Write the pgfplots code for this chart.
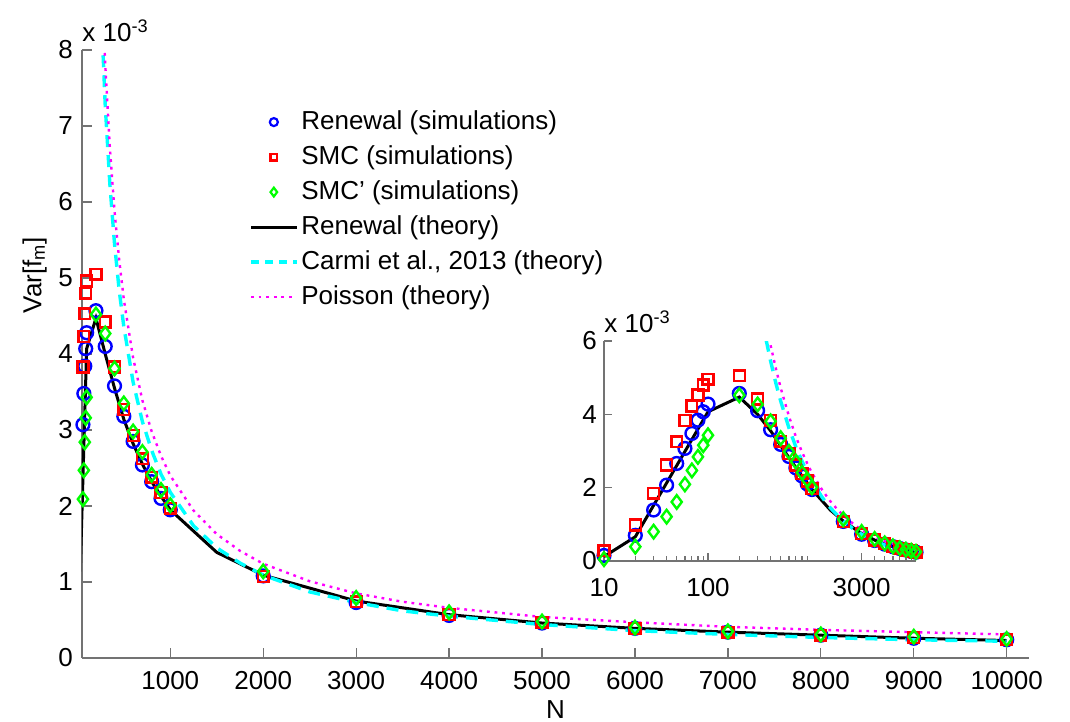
\documentclass[border=0pt]{standalone}
\usepackage{fontspec}
\setmainfont{Liberation Sans}
\usepackage{pgfplots}
\usepackage{pgfplotstable}
\pgfplotsset{compat=1.18}
\definecolor{mblue}{rgb}{0,0,1}
\definecolor{mred}{rgb}{1,0,0}
\definecolor{mgreen}{rgb}{0,1,0}
\definecolor{mcyan}{rgb}{0,1,1}
\definecolor{mmag}{rgb}{1,0,1}
\definecolor{axgray}{rgb}{0.45,0.45,0.45}

% Var[f_m] in units of 1e-3
\pgfplotstableread{
N V
10 0.15
20 0.70
30 1.39
40 2.07
50 2.66
60 3.07
70 3.48
80 3.84
90 4.07
100 4.28
200 4.57
300 4.10
400 3.58
500 3.18
600 2.85
700 2.54
800 2.32
900 2.10
1000 1.95
2000 1.08
3000 0.73
4000 0.56
5000 0.46
6000 0.39
7000 0.34
8000 0.30
9000 0.26
10000 0.24
}\renewsim
\pgfplotstableread{
N V
10 0.28
20 0.98
30 1.85
40 2.62
50 3.25
60 3.83
70 4.23
80 4.53
90 4.80
100 4.96
200 5.05
300 4.42
400 3.83
500 3.27
600 2.93
700 2.62
800 2.38
900 2.18
1000 1.97
2000 1.07
3000 0.74
4000 0.57
5000 0.47
6000 0.39
7000 0.34
8000 0.30
9000 0.27
10000 0.24
}\smcsim
\pgfplotstableread{
N V
10 0.05
20 0.39
30 0.80
40 1.21
50 1.61
60 2.09
70 2.47
80 2.84
90 3.16
100 3.43
200 4.52
300 4.27
400 3.81
500 3.35
600 2.98
700 2.71
800 2.41
900 2.21
1000 2.01
2000 1.14
3000 0.79
4000 0.60
5000 0.48
6000 0.40
7000 0.35
8000 0.31
9000 0.28
10000 0.25
}\smcpsim
\pgfplotstableread{
N V
10 0.12
20 0.66
100 4.07
200 4.47
300 4.00
400 3.55
500 3.14
600 2.82
700 2.55
800 2.32
900 2.13
1000 1.95
1500 1.39
2000 1.09
3000 0.75
4000 0.57
5000 0.46
6000 0.39
7000 0.34
8000 0.30
9000 0.26
10000 0.23
}\renewth
\pgfplotstableread{
N V
250 8.72
300 7.27
350 6.23
400 5.45
450 4.84
500 4.36
600 3.63
700 3.11
800 2.73
900 2.42
1000 2.18
1250 1.74
1500 1.45
1750 1.25
2000 1.09
2500 0.87
3000 0.73
3500 0.62
4000 0.55
5000 0.44
6000 0.36
7000 0.31
8000 0.27
9000 0.24
10000 0.22
}\carmi
\pgfplotstableread{
N V
250 9.36
280 8.37
300 7.81
350 6.71
400 5.88
450 5.24
500 4.72
600 3.95
700 3.39
800 2.98
900 2.66
1000 2.40
1250 1.94
1500 1.63
1750 1.41
2000 1.24
2500 1.01
3000 0.85
3500 0.74
4000 0.66
5000 0.54
6000 0.47
7000 0.41
8000 0.37
9000 0.34
10000 0.31
}\poisson

\pgfplotsset{
  legend image code/.code={\draw[mark repeat=2,mark phase=2,#1] plot coordinates {(0cm,0cm) (0.4cm,0cm) (0.8cm,0cm)};},
  mlab/.style={
    scale only axis, axis lines*=left,
    axis line style={draw=axgray, line width=0.6pt},
    tick align=inside, tick style={axgray, line width=0.6pt},
    /pgf/number format/assume math mode=true,
    /pgf/number format/1000 sep={},
    scaled ticks=false,
  },
  renewal/.style={only marks, mark=o, mblue, mark size=3.2pt, mark options={line width=1.2pt}},
  smc/.style={only marks, mark=square, mred, mark size=2.7pt, mark options={line width=1.2pt}},
  smcp/.style={only marks, mark=diamond, mgreen, mark size=3.4pt, mark options={line width=1.2pt}},
  theory/.style={black, line width=1.5pt, no markers},
  carmistyle/.style={mcyan, line width=1.7pt, dash pattern=on 6pt off 4pt, no markers},
  poisstyle/.style={mmag, line width=1.2pt, dash pattern=on 1.4pt off 2.4pt, no markers},
}

\begin{document}
\fontsize{13}{15}\selectfont
\begin{tikzpicture}
\path[use as bounding box] (-41pt,-32pt) rectangle (494pt,329pt);
\begin{axis}[
  mlab, name=main, at={(0,0)}, anchor=south west,
  width=473.5pt, height=304pt,
  xmin=50, xmax=10240, ymin=0, ymax=8,
  major tick length=5pt,
  xtick={1000,2000,3000,4000,5000,6000,7000,8000,9000,10000},
  ytick={0,1,2,3,4,5,6,7,8},
  xticklabel style={yshift=-2pt},
  xlabel={N}, ylabel={Var[f\textsubscript{m}]},
  xlabel style={at={(axis description cs:0.5,-0.084)}, anchor=center},
  ylabel style={at={(axis description cs:-0.05,0.63)}, anchor=center},
  legend style={at={(0.17,0.915)}, anchor=north west, draw=none, fill=none,
    row sep=1.5pt, nodes={inner sep=1.5pt, text height=10pt, text depth=3pt}},
  legend cell align=left,
]
\addplot[renewal, forget plot, restrict x to domain=55:20000] table {\renewsim};
\addplot[smc, forget plot, restrict x to domain=55:20000] table {\smcsim};
\addplot[smcp, forget plot, restrict x to domain=55:20000] table {\smcpsim};
\addplot[theory, forget plot] table {\renewth};
\addplot[carmistyle, forget plot] table {\carmi};
\addplot[poisstyle, forget plot] table {\poisson};
\addlegendimage{only marks, mark=o, mblue, mark size=2pt, mark options={line width=1.1pt}}
\addlegendentry{Renewal (simulations)}
\addlegendimage{only marks, mark=square, mred, mark size=1.7pt, mark options={line width=1.1pt}}
\addlegendentry{SMC (simulations)}
\addlegendimage{only marks, mark=diamond, mgreen, mark size=2.2pt, mark options={line width=1.1pt}}
\addlegendentry{SMC' (simulations)}
\addlegendimage{theory}
\addlegendentry{Renewal (theory)}
\addlegendimage{carmistyle, dash pattern=on 4pt off 3pt}
\addlegendentry{Carmi et al., 2013 (theory)}
\addlegendimage{poisstyle}
\addlegendentry{Poisson (theory)}
\end{axis}
\node[anchor=south west, inner sep=0pt] at ([yshift=4pt]main.north west) {x 10\textsuperscript{-3}};
\begin{axis}[
  mlab, name=inset, at={(261pt,48.5pt)}, anchor=south west,
  width=156pt, height=110pt,
  xmode=log, xmin=10, xmax=10000, ymin=0, ymax=6,
  major tick length=4pt, minor tick length=2.5pt,
  xtick={10,100,3000}, xticklabels={10,100,3000},
  xticklabel style={yshift=-4pt},
  minor xtick={20,30,40,50,60,70,80,90,200,300,400,500,600,700,800,900,2000,4000,5000,6000,7000,8000,9000},
  ytick={0,2,4,6},
  yticklabel style={xshift=1pt},
]
\addplot[renewal] table {\renewsim};
\addplot[smc] table {\smcsim};
\addplot[smcp] table {\smcpsim};
\addplot[theory] table {\renewth};
\addplot[carmistyle] table {\carmi};
\addplot[poisstyle] table {\poisson};
\end{axis}
\node[anchor=south west, inner sep=0pt] at ([yshift=4pt]inset.north west) {x 10\textsuperscript{-3}};
\end{tikzpicture}
\end{document}
